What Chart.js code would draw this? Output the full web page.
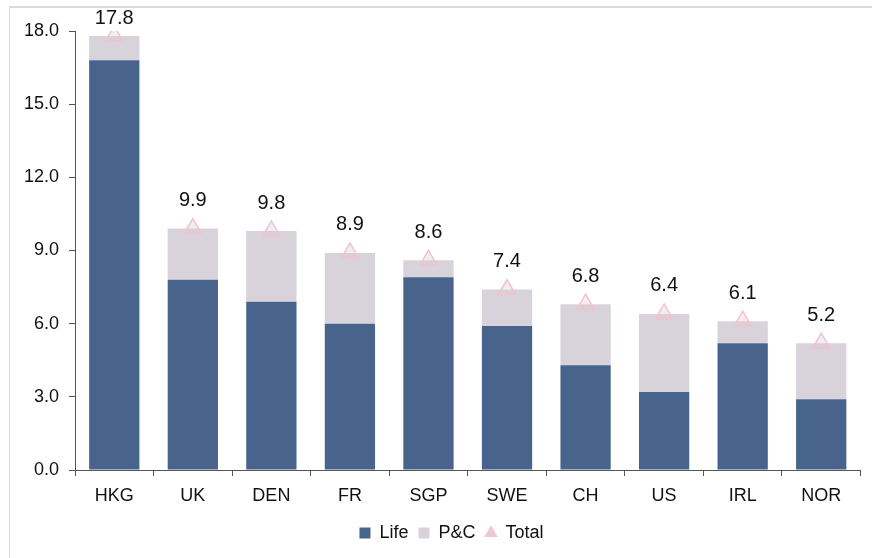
<!DOCTYPE html>
<html lang="en">
<head>
    <meta charset="UTF-8">
    <title>Premiums by country</title>
    <script src="https://cdn.jsdelivr.net/npm/chart.js"></script>
    <style>
        body {
            margin: 0;
            background: #ffffff;
            font-family: "Liberation Sans", Arial, sans-serif;
        }
        .frame {
            position: absolute;
            left: 9px;
            top: 6px;
            width: 900px;
            height: 600px;
            border-left: 1px solid #dcdcdc;
            border-top: 2px solid #dcdcdc;
        }
        #wrap {
            position: absolute;
            left: 0;
            top: 0;
            width: 872px;
            height: 558px;
        }
    </style>
</head>
<body>
    <div class="frame"></div>
    <div id="wrap"><canvas id="chart"></canvas></div>

    <script>
        const countries = ['HKG', 'UK', 'DEN', 'FR', 'SGP', 'SWE', 'CH', 'US', 'IRL', 'NOR'];
        const lifeValues = [16.8, 7.8, 6.9, 6.0, 7.9, 5.9, 4.3, 3.2, 5.2, 2.9];
        const pcValues = [1.0, 2.1, 2.9, 2.9, 0.7, 1.5, 2.5, 3.2, 0.9, 2.3];
        const totalValues = [17.8, 9.9, 9.8, 8.9, 8.6, 7.4, 6.8, 6.4, 6.1, 5.2];

        const font = "'Liberation Sans', Arial, sans-serif";

        // draw the total value above each triangle
        const totalLabels = {
            id: 'totalLabels',
            afterLayout(chart) {
                // legend sits a little right of centre in the original
                if (chart.legend) {
                    chart.legend.left += 21;
                    chart.legend.right += 21;
                }
            },
            afterDatasetsDraw(chart) {
                const ctx = chart.ctx;
                const meta = chart.getDatasetMeta(2);
                ctx.save();
                ctx.font = '20px ' + font;
                ctx.fillStyle = '#111';
                ctx.textAlign = 'center';
                ctx.textBaseline = 'middle';
                meta.data.forEach((pt, i) => {
                    let y = pt.y - 28;
                    if (y < 18) y = 18;
                    ctx.fillText(totalValues[i].toFixed(1), pt.x, y);
                });
                ctx.restore();
            }
        };

        const ctx = document.getElementById('chart').getContext('2d');
        new Chart(ctx, {
            type: 'bar',
            data: {
                labels: countries,
                datasets: [{
                    label: 'Life',
                    data: lifeValues,
                    backgroundColor: '#48648c',
                    stack: 's',
                    order: 2
                }, {
                    label: 'P&C',
                    data: pcValues,
                    backgroundColor: '#d8d3da',
                    stack: 's',
                    order: 2
                }, {
                    type: 'line',
                    label: 'Total',
                    data: totalValues,
                    showLine: false,
                    backgroundColor: '#ecc8d2',
                    borderColor: '#f0c4cf',
                    pointStyle: 'triangle',
                    pointRadius: 10,
                    pointBorderWidth: 1.5,
                    pointBackgroundColor: 'rgba(225,200,210,0.35)',
                    pointBorderColor: '#f2c2ce',
                    order: 1
                }]
            },
            options: {
                responsive: true,
                maintainAspectRatio: false,
                animation: false,
                layout: { padding: { top: 31, right: 11, bottom: 6, left: 0 } },
                datasets: {
                    bar: { categoryPercentage: 1, barPercentage: 0.64 }
                },
                scales: {
                    x: {
                        stacked: true,
                        offset: true,
                        afterFit: s => { s.height = 44; },
                        grid: {
                            offset: true,
                            drawOnChartArea: false,
                            tickLength: 6,
                            color: '#555'
                        },
                        border: { color: '#555' },
                        ticks: { color: '#111', font: { family: font, size: 18 }, padding: 9 }
                    },
                    y: {
                        stacked: true,
                        min: 0,
                        max: 18,
                        afterFit: s => { s.width = 75; },
                        grid: {
                            drawOnChartArea: false,
                            tickLength: 6,
                            color: '#555'
                        },
                        border: { color: '#555' },
                        ticks: {
                            stepSize: 3,
                            color: '#111',
                            padding: 10,
                            font: { family: font, size: 18 },
                            callback: v => v.toFixed(1)
                        }
                    }
                },
                plugins: {
                    tooltip: { enabled: false },
                    legend: {
                        position: 'bottom',
                        labels: {
                            color: '#111',
                            font: { family: font, size: 18 },
                            usePointStyle: true,
                            boxWidth: 11,
                            boxHeight: 11,
                            padding: 10,
                            generateLabels(chart) {
                                const items = Chart.defaults.plugins.legend.labels.generateLabels(chart);
                                items.sort((a, b) => a.datasetIndex - b.datasetIndex);
                                items.forEach(it => {
                                    const ds = chart.data.datasets[it.datasetIndex];
                                    it.pointStyle = it.datasetIndex === 2 ? 'triangle' : 'rect';
                                    it.fillStyle = ds.backgroundColor;
                                    it.strokeStyle = ds.backgroundColor;
                                    it.lineWidth = 0;
                                });
                                return items;
                            }
                        }
                    }
                }
            },
            plugins: [totalLabels]
        });
    </script>
</body>
</html>
